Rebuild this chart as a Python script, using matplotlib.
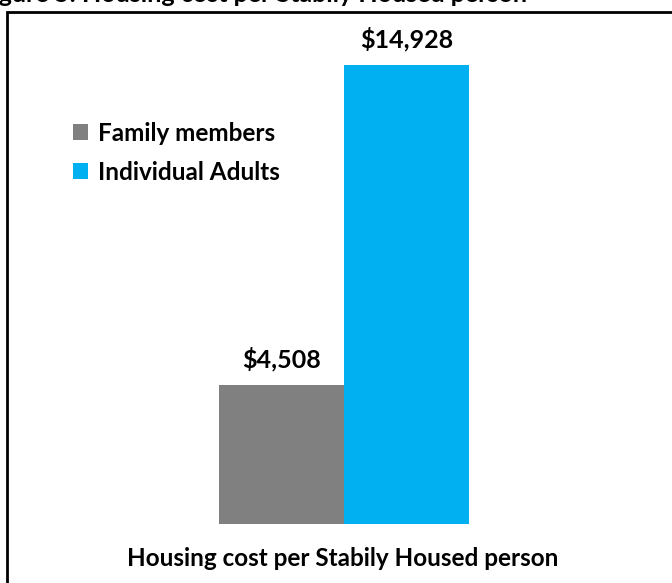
import matplotlib.pyplot as plt
from matplotlib.patches import Rectangle

categories = ["Family members", "Individual Adults"]
values = [4508, 14928]
labels = ["$4,508", "$14,928"]
colors = ["#808080", "#00b0f0"]
title = "Figure 5: Housing cost per Stabily Housed person"
xlabel = "Housing cost per Stabily Housed person"

plt.rcParams["font.family"] = ["Lato", "DejaVu Sans"]

W, H = 672, 583
fig = plt.figure(figsize=(W / 100, H / 100), dpi=100)

# outer frame of the chart box (partially cropped like the source)
fig.patches.append(Rectangle((7 / W, -0.05), (W + 10 - 7) / W, 1.05 - 12 / H,
                             transform=fig.transFigure, fill=False,
                             edgecolor="black", linewidth=2))

# cropped title at the very top
fig.text(-22 / W, 1 + 5 / H, title, ha="left", va="center", fontsize=18,
         fontweight="bold")

ax = fig.add_axes([219 / W, 59 / H, 250 / W, 459 / H])
ax.bar([0, 1], values, width=1.0, color=colors, label=categories)
ax.set_xlim(-0.5, 1.5)
ax.set_ylim(0, max(values))
ax.axis("off")

for i, (v, t) in enumerate(zip(values, labels)):
    ax.annotate(t, (i, v), xytext=(0, 10), textcoords="offset points",
                ha="center", va="bottom", fontsize=18, fontweight="bold")

fig.text(343 / W, 1 - 559 / H, xlabel, ha="center", va="center",
         fontsize=17.5, fontweight="bold")

handles, lbls = ax.get_legend_handles_labels()
fig.legend(handles, lbls, loc="upper left", bbox_to_anchor=(51 / W, 1 - 100 / H),
           frameon=False, prop={"weight": "bold", "size": 17.5},
           handlelength=0.62, handleheight=0.62, handletextpad=0.4, labelspacing=0.65)

fig.savefig("out.png", dpi=100)
